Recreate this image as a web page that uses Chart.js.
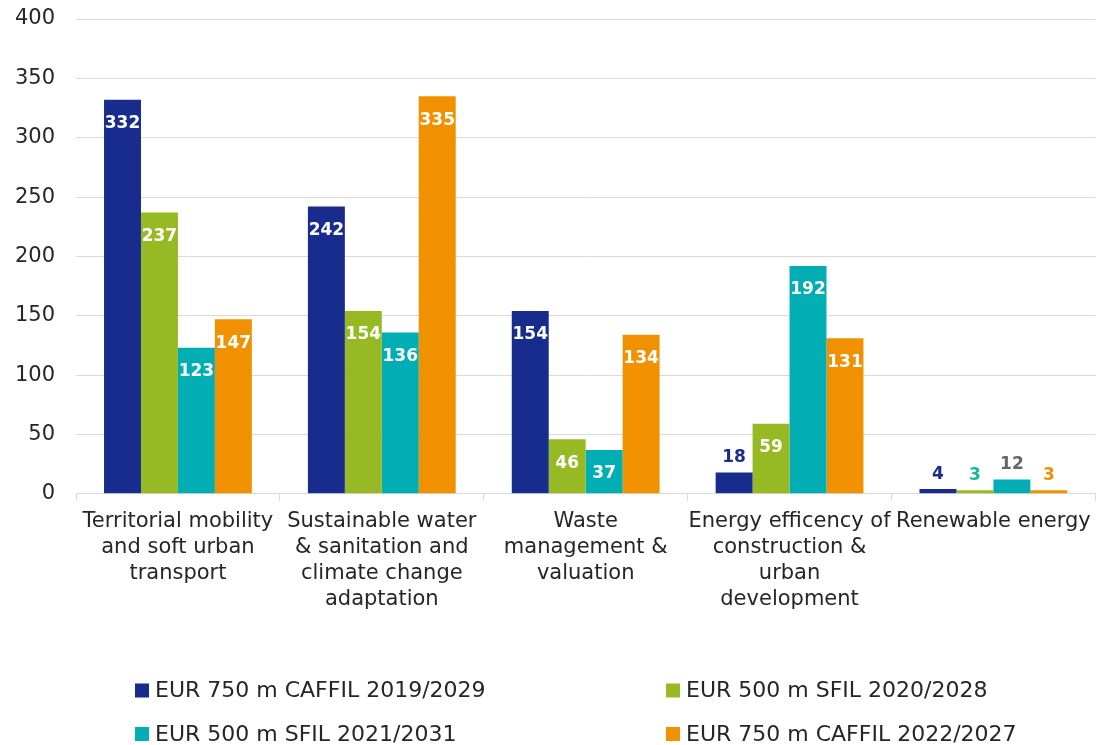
<!DOCTYPE html>
<html>
<head>
<meta charset="utf-8">
<script src="https://cdn.jsdelivr.net/npm/chart.js@4.4.1/dist/chart.umd.min.js"></script>
<style>
    html, body { margin: 0; padding: 0; background: #fff; }
    #wrap { width: 1099px; height: 745px; position: relative; }
</style>
</head>
<body>
<div id="wrap"><canvas id="greenBondChart"></canvas></div>
<script>
// Categories (multi-line axis labels)
const categories = [
    ['Territorial mobility', 'and soft urban', 'transport'],
    ['Sustainable water', '& sanitation and', 'climate change', 'adaptation'],
    ['Waste', 'management &', 'valuation'],
    ['Energy efficency of', 'construction &', 'urban', 'development'],
    ['Renewable energy']
];

// Series names
const seriesNames = [
    'EUR 750 m CAFFIL 2019/2029',
    'EUR 500 m SFIL 2020/2028',
    'EUR 500 m SFIL 2021/2031',
    'EUR 750 m CAFFIL 2022/2027'
];

// Values per category
const caffil2019 = [332, 242, 154, 18, 4];
const sfil2020 = [237, 154, 46, 59, 3];
const sfil2021 = [123, 136, 37, 192, 12];
const caffil2022 = [147, 335, 134, 131, 3];

// Y axis range
const yMin = 0;
const yMax = 400;
const yStep = 50;

document.addEventListener('DOMContentLoaded', function() {
    const FONT = '"DejaVu Sans", sans-serif';
    const TEXT = '#262626';
    const GRID = '#d9d9d9';

    // Value labels: white inside tall bars, coloured above short ones
    const valueLabels = {
        id: 'valueLabels',
        afterDatasetsDraw(chart) {
            const ctx = chart.ctx;
            ctx.save();
            ctx.font = 'bold 17px ' + FONT;
            ctx.textAlign = 'center';
            ctx.textBaseline = 'middle';
            chart.data.datasets.forEach((ds, i) => {
                chart.getDatasetMeta(i).data.forEach((bar, j) => {
                    const v = ds.data[j];
                    if (v >= 30) {
                        ctx.fillStyle = '#ffffff';
                        ctx.fillText(v, bar.x, bar.y + 24);
                    } else {
                        ctx.fillStyle = ds.outsideLabelColor;
                        ctx.fillText(v, bar.x, bar.y - 15);
                    }
                });
            });
            ctx.restore();
        }
    };

    // Two-column legend under the axis
    const bottomLegend = {
        id: 'bottomLegend',
        afterDraw(chart, args, opts) {
            const ctx = chart.ctx;
            ctx.save();
            ctx.font = '22px ' + FONT;
            ctx.textBaseline = 'middle';
            ctx.textAlign = 'left';
            chart.data.datasets.forEach((ds, i) => {
                const x = opts.columns[i % 2];
                const y = opts.rows[Math.floor(i / 2)];
                ctx.fillStyle = ds.backgroundColor;
                ctx.fillRect(x, y - 7, 14, 14);
                ctx.fillStyle = TEXT;
                ctx.fillText(ds.label, x + 20, y + 1);
            });
            ctx.restore();
        }
    };

    const ctx = document.getElementById('greenBondChart').getContext('2d');
    new Chart(ctx, {
        type: 'bar',
        data: {
            labels: categories,
            datasets: [
                { label: seriesNames[0], data: caffil2019, backgroundColor: '#172C8D', outsideLabelColor: '#172C8D' },
                { label: seriesNames[1], data: sfil2020, backgroundColor: '#97BA24', outsideLabelColor: '#17B89B' },
                { label: seriesNames[2], data: sfil2021, backgroundColor: '#00AEB3', outsideLabelColor: '#666666' },
                { label: seriesNames[3], data: caffil2022, backgroundColor: '#F29100', outsideLabelColor: '#F29100' }
            ]
        },
        options: {
            responsive: true,
            maintainAspectRatio: false,
            animation: false,
            categoryPercentage: 0.725,
            barPercentage: 1.0,
            layout: {
                padding: { top: 0, right: 2, left: 15, bottom: 124 }
            },
            plugins: {
                legend: { display: false },
                tooltip: { enabled: false },
                bottomLegend: {
                    columns: [135, 666],
                    rows: [690.5, 734]
                }
            },
            scales: {
                x: {
                    grid: {
                        offset: true,
                        drawOnChartArea: false,
                        drawTicks: true,
                        tickLength: 7,
                        color: GRID
                    },
                    border: { color: GRID },
                    ticks: {
                        color: TEXT,
                        font: { family: FONT, size: 21, lineHeight: 1.24 },
                        padding: 8,
                        maxRotation: 0,
                        minRotation: 0,
                        autoSkip: false
                    }
                },
                y: {
                    min: yMin,
                    max: yMax,
                    grid: { color: GRID, drawTicks: false },
                    border: { display: false },
                    ticks: {
                        stepSize: yStep,
                        color: TEXT,
                        padding: 21,
                        font: { family: FONT, size: 21 }
                    },
                    afterFit(scale) {
                        scale.width = 61;
                        scale.paddingTop = 19;
                        scale.paddingBottom = 0;
                    }
                }
            }
        },
        plugins: [valueLabels, bottomLegend]
    });
});
</script>
</body>
</html>
